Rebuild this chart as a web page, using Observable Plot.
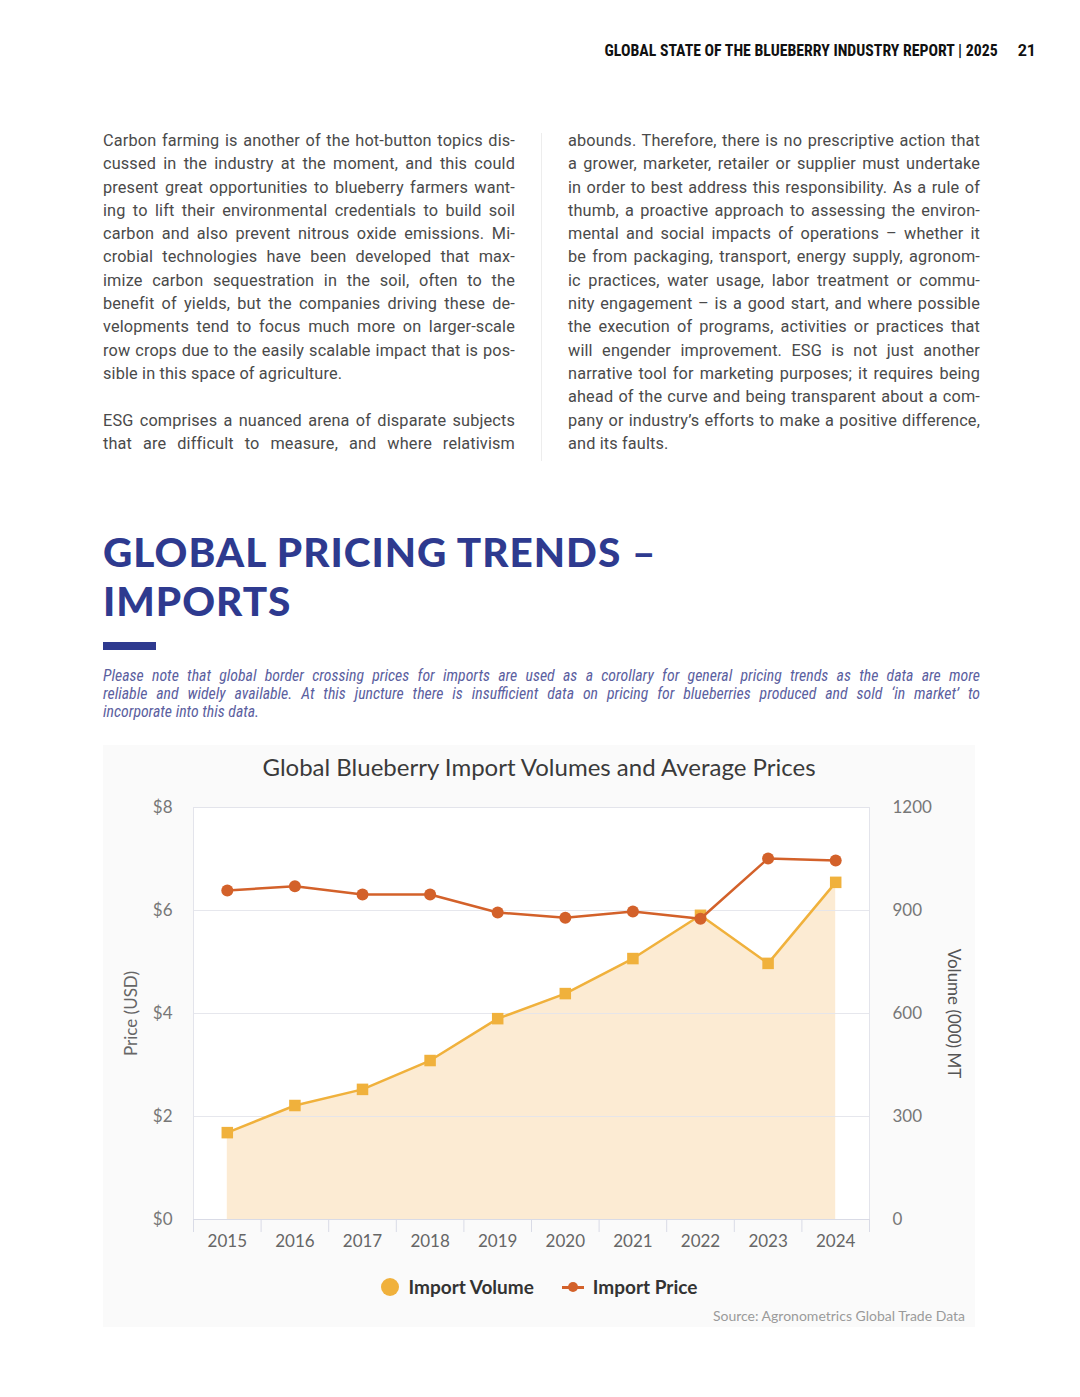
<!DOCTYPE html>
<html>
<head>
<meta charset="utf-8">
<script src="https://cdn.jsdelivr.net/npm/d3@7"></script>
<script src="https://cdn.jsdelivr.net/npm/@observablehq/plot@0.6"></script>
<style>
  html, body { margin: 0; padding: 0; background: #fff; }
  body { width: 1080px; height: 1397px; position: relative; overflow: hidden; }
  .abs { position: absolute; }
  #header { top: 40px; right: 44px; font-family: "Liberation Sans Narrow", "Roboto Condensed", Roboto, sans-serif; font-weight: 700; font-size: 15.8px; color: #111; white-space: nowrap; line-height: 22px; }
  #header .pg { font-family: Roboto, sans-serif; font-size: 16px; margin-left: 20px; }
  .col { top: 129px; width: 412px; font-family: Roboto, "Noto Sans", sans-serif; font-size: 16.3px; letter-spacing: 0.15px; color: #4a4a4a; }
  .col .ln { height: 23.3px; line-height: 23.3px; white-space: nowrap; text-align: justify; text-align-last: justify; }
  .col .ln.last { text-align-last: left; }
  .col .gap { height: 23.3px; }
  #divider { left: 541px; top: 133px; width: 1px; height: 328px; background: #ededed; }
  #title { left: 103px; top: 527px; font-family: Lato, sans-serif; font-weight: 900; font-size: 40.5px; color: #2e3a8f; letter-spacing: 1px; }
  #title div { height: 49px; line-height: 49px; white-space: nowrap; }
  #bar { left: 103px; top: 642px; width: 53px; height: 8px; background: #2e3a8f; }
  #note { left: 103px; top: 667px; width: 877px; font-family: "Liberation Sans Narrow", "Roboto Condensed", Roboto, sans-serif; font-style: italic; font-size: 15.8px; color: #5b60a0; }
  #note .ln { height: 18px; line-height: 18px; white-space: nowrap; text-align: justify; text-align-last: justify; }
  #note .ln.last { text-align-last: left; }
  #panel { left: 103px; top: 745px; width: 872px; height: 582px; background: #fafafa; }
  #ctitle { left: 0; top: 7px; width: 872px; text-align: center; font-family: Lato, sans-serif; font-size: 24px; line-height: 30px; color: #3a3a3a; }
  #chart { left: 0; top: 45px; }
  #legend { left: 0; top: 530px; width: 872px; height: 24px; display: flex; justify-content: center; align-items: center; font-family: Lato, sans-serif; font-weight: 700; font-size: 19px; line-height: 24px; color: #333; }
  #legend .item { display: flex; align-items: center; margin: 0 14px; }
  #legend .sw { display: block; width: 18px; height: 18px; border-radius: 50%; background: #f0b13c; margin-right: 10px; }
  #legend .ls { position: relative; display: block; width: 22px; height: 3px; background: #d3612a; margin-right: 9px; }
  #legend .ls::after { content: ""; position: absolute; left: 6px; top: -4px; width: 10px; height: 10px; border-radius: 50%; background: #d3612a; }
  #source { right: 10px; top: 562px; font-family: Lato, sans-serif; font-size: 14px; color: #9a9a9a; line-height: 18px; }
</style>
</head>
<body>
<div id="header" class="abs">GLOBAL STATE OF THE BLUEBERRY INDUSTRY REPORT | 2025<span class="pg">21</span></div>

<div class="col abs" style="left:103px">
  <div class="ln">Carbon farming is another of the hot-button topics dis-</div>
  <div class="ln">cussed in the industry at the moment, and this could</div>
  <div class="ln">present great opportunities to blueberry farmers want-</div>
  <div class="ln">ing to lift their environmental credentials to build soil</div>
  <div class="ln">carbon and also prevent nitrous oxide emissions. Mi-</div>
  <div class="ln">crobial technologies have been developed that max-</div>
  <div class="ln">imize carbon sequestration in the soil, often to the</div>
  <div class="ln">benefit of yields, but the companies driving these de-</div>
  <div class="ln">velopments tend to focus much more on larger-scale</div>
  <div class="ln">row crops due to the easily scalable impact that is pos-</div>
  <div class="ln last">sible in this space of agriculture.</div>
  <div class="gap"></div>
  <div class="ln">ESG comprises a nuanced arena of disparate subjects</div>
  <div class="ln">that are difficult to measure, and where relativism</div>
</div>
<div id="divider" class="abs"></div>
<div class="col abs" style="left:568px">
  <div class="ln">abounds. Therefore, there is no prescriptive action that</div>
  <div class="ln">a grower, marketer, retailer or supplier must undertake</div>
  <div class="ln">in order to best address this responsibility. As a rule of</div>
  <div class="ln">thumb, a proactive approach to assessing the environ-</div>
  <div class="ln">mental and social impacts of operations – whether it</div>
  <div class="ln">be from packaging, transport, energy supply, agronom-</div>
  <div class="ln">ic practices, water usage, labor treatment or commu-</div>
  <div class="ln">nity engagement – is a good start, and where possible</div>
  <div class="ln">the execution of programs, activities or practices that</div>
  <div class="ln">will engender improvement. ESG is not just another</div>
  <div class="ln">narrative tool for marketing purposes; it requires being</div>
  <div class="ln">ahead of the curve and being transparent about a com-</div>
  <div class="ln">pany or industry’s efforts to make a positive difference,</div>
  <div class="ln last">and its faults.</div>
</div>

<div id="title" class="abs"><div>GLOBAL PRICING TRENDS –</div><div>IMPORTS</div></div>
<div id="bar" class="abs"></div>
<div id="note" class="abs">
  <div class="ln">Please note that global border crossing prices for imports are used as a corollary for general pricing trends as the data are more</div>
  <div class="ln">reliable and widely available. At this juncture there is insufficient data on pricing for blueberries produced and sold ‘in market’ to</div>
  <div class="ln last">incorporate into this data.</div>
</div>

<div id="panel" class="abs">
  <div id="ctitle" class="abs">Global Blueberry Import Volumes and Average Prices</div>
  <div id="chart" class="abs"></div>
  <div id="legend" class="abs">
    <span class="item"><span class="sw"></span>Import Volume</span>
    <span class="item"><span class="ls"></span>Import Price</span>
  </div>
  <div id="source" class="abs">Source: Agronometrics Global Trade Data</div>
</div>

<script>
const years = [2015, 2016, 2017, 2018, 2019, 2020, 2021, 2022, 2023, 2024];
const importPrice = [6.39, 6.47, 6.31, 6.31, 5.96, 5.86, 5.98, 5.84, 7.01, 6.97];
const importVolume = [253, 332, 379, 463, 585, 658, 760, 886, 746, 982];
const priceTicks = [0, 2, 4, 6, 8];
const volumeTicks = [0, 300, 600, 900, 1200];
const priceLabel = "Price (USD)";
const volumeLabel = "Volume (000) MT";

const ratio = volumeTicks[volumeTicks.length - 1] / priceTicks[priceTicks.length - 1];
const data = years.map((year, i) => ({year, price: importPrice[i], volume: importVolume[i]}));
const bounds = years.map(y => y - 0.5).concat([years[years.length - 1] + 0.5]);

const colVol = "#f0b13c", colPrice = "#d3612a", colArea = "#fcebd3", colGrid = "#e3e4eb";

const chart = Plot.plot({
  width: 872,
  height: 472,
  marginLeft: 90,
  marginRight: 106,
  marginTop: 17,
  marginBottom: 43,
  style: {fontFamily: "Lato, sans-serif", fontSize: "17px", color: "#666", background: "transparent", overflow: "visible"},
  x: {type: "linear", domain: [bounds[0], bounds[bounds.length - 1]]},
  y: {domain: [priceTicks[0], priceTicks[priceTicks.length - 1]]},
  marks: [
    Plot.frame({fill: "white", stroke: null}),
    Plot.areaY(data, {x: "year", y: d => d.volume / ratio, fill: colArea}),
    Plot.gridY(priceTicks.slice(1, -1), {stroke: colGrid, strokeOpacity: 0.9}),
    Plot.frame({stroke: colGrid, strokeOpacity: 1}),
    Plot.ruleY([0], {stroke: "#d9dbe6"}),
    Plot.axisX(bounds, {tickSize: 13, tickFormat: () => "", stroke: "#d9dbe6", label: null}),
    Plot.axisX(years, {tickSize: 0, tickPadding: 15, tickFormat: d => String(d), label: null, fill: "#666"}),
    Plot.axisY(priceTicks, {anchor: "left", tickSize: 0, tickPadding: 21, tickFormat: d => "$" + d, label: null, fill: "#777"}),
    Plot.axisY(volumeTicks.map(v => v / ratio), {anchor: "right", tickSize: 0, tickPadding: 23, tickFormat: d => String(Math.round(d * ratio)), label: null, fill: "#777"}),
    Plot.text([priceLabel], {frameAnchor: "left", textAnchor: "middle", rotate: -90, dx: -62, fill: "#666", fontSize: 17}),
    Plot.text([volumeLabel], {frameAnchor: "right", textAnchor: "middle", rotate: 90, dx: 84, fill: "#555", fontSize: 17}),
    Plot.lineY(data, {x: "year", y: d => d.volume / ratio, stroke: colVol, strokeWidth: 2.5}),
    Plot.dot(data, {x: "year", y: d => d.volume / ratio, symbol: "square", r: 6.5, fill: colVol, stroke: null}),
    Plot.lineY(data, {x: "year", y: "price", stroke: colPrice, strokeWidth: 2.5}),
    Plot.dot(data, {x: "year", y: "price", r: 6, fill: colPrice, stroke: null})
  ]
});
document.getElementById("chart").appendChild(chart);
</script>
</body>
</html>
